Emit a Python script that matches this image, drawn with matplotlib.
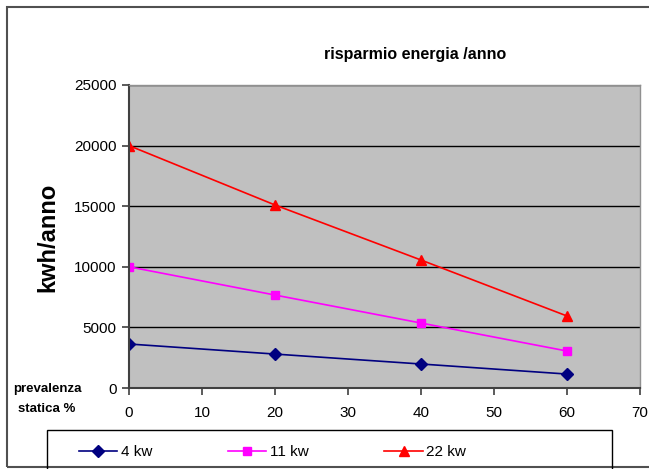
import matplotlib.pyplot as plt
from matplotlib.patches import Rectangle

plt.rcParams['font.family'] = ['Liberation Sans', 'DejaVu Sans']

# prevalenza statica (%)
prevalenza = [0, 20, 40, 60]
# risparmio energia (kWh/anno) per potenza
kw4 = [3630, 2800, 1980, 1150]
kw11 = [10000, 7670, 5360, 3050]
kw22 = [20000, 15100, 10560, 5940]
nomi = ["4 kw", "11 kw", "22 kw"]

W, H = 649, 469
fig = plt.figure(figsize=(W / 100, H / 100), dpi=100)
ax = fig.add_axes([129 / W, 1 - 388 / H, (640 - 129) / W, (388 - 85) / H])
ax.set_facecolor('#c0c0c0')

l1, = ax.plot(prevalenza, kw4, color='#000080', marker='D', markersize=6, lw=1.2)
l2, = ax.plot(prevalenza, kw11, color='#ff00ff', marker='s', markersize=6, lw=1.2)
l3, = ax.plot(prevalenza, kw22, color='#ff0000', marker='^', markersize=7, lw=1.2)

ax.set_xlim(0, 70)
ax.set_ylim(0, 25000)
ax.set_xticks(range(0, 71, 10))
ax.set_yticks(range(0, 25001, 5000))
ax.grid(axis='y', color='black', lw=1)
ax.set_axisbelow(True)
for s in ['top', 'right']:
    ax.spines[s].set_color('#909090')
    ax.spines[s].set_linewidth(1)
for s in ['left', 'bottom']:
    ax.spines[s].set_color('#404040')
    ax.spines[s].set_linewidth(1.5)
ax.tick_params(axis='x', direction='out', length=5, width=1.2, pad=8, labelsize=11, color='#404040')
ax.tick_params(axis='y', direction='out', length=5, width=1.2, pad=4, labelsize=11, color='#404040')

fig.text(415 / W, 1 - 54 / H, "risparmio energia /anno", ha='center', va='center',
         fontsize=11.5, fontweight='bold')
fig.text(48 / W, 1 - 237 / H, "kwh/anno", rotation=90, ha='center', va='center',
         fontsize=17, fontweight='bold')
fig.text(47 / W, 1 - 399 / H, "prevalenza\nstatica %", ha='center', va='center',
         fontsize=9.5, fontweight='bold', multialignment='center', linespacing=1.85)

# cornice esterna e riquadro della legenda
fig.patches.append(Rectangle((7 / W, 1 - 467 / H), 1, 460 / H, transform=fig.transFigure,
                             fill=False, edgecolor='#505050', lw=1.5))
fig.patches.append(Rectangle((47 / W, -0.05), (612 - 47) / W, 0.05 + 39 / H,
                             transform=fig.transFigure, fill=False, edgecolor='black', lw=1))

leg = fig.legend([l1, l2, l3], nomi, loc='center left', ncol=3,
                 bbox_to_anchor=(79 / W, 1 - 452 / H),
                 fontsize=11, frameon=False, borderaxespad=0, borderpad=0,
                 handlelength=2.5, handletextpad=0.25, columnspacing=4.95)

fig.savefig('out.png', dpi=100)
